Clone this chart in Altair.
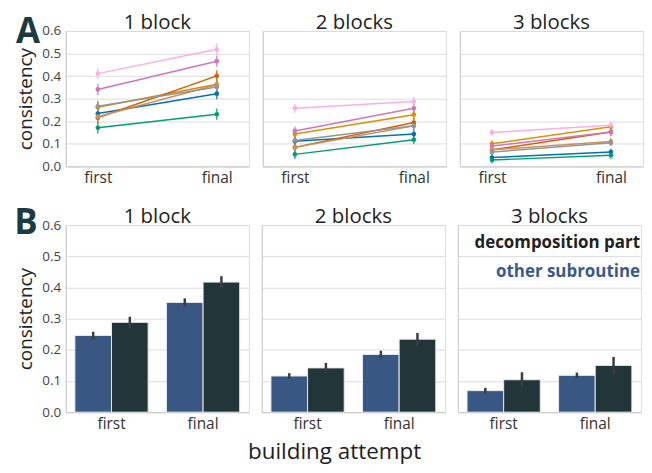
import altair as alt
import pandas as pd

FONT = "Open Sans"

blocks = ["1 block", "2 blocks", "3 blocks"]
attempts = ["first", "final"]

# Panel A: per-series consistency (first, final) per block
series = ["s1", "s2", "s3", "s4", "s5", "s6", "s7", "s8"]
series_colors = ["#0173b2", "#de8f05", "#029e73", "#d55e00", "#cc78bc", "#ca9161", "#fbafe4", "#949494"]
first_1 = [0.234, 0.262, 0.171, 0.215, 0.341, 0.220, 0.411, 0.266]
final_1 = [0.322, 0.364, 0.231, 0.401, 0.466, 0.362, 0.519, 0.352]
first_2 = [0.111, 0.143, 0.053, 0.084, 0.157, 0.084, 0.257, 0.115]
final_2 = [0.143, 0.229, 0.118, 0.194, 0.257, 0.180, 0.287, 0.180]
first_3 = [0.039, 0.100, 0.028, 0.073, 0.090, 0.073, 0.150, 0.063]
final_3 = [0.063, 0.175, 0.049, 0.152, 0.152, 0.110, 0.182, 0.105]
err_A = [0.025, 0.02, 0.016]

# Panel B: bars
parts = ["other subroutine", "decomposition part"]
part_colors = ["#385783", "#223539"]
other_first = [0.246, 0.116, 0.069]
other_final = [0.352, 0.185, 0.118]
decomp_first = [0.288, 0.142, 0.104]
decomp_final = [0.417, 0.234, 0.150]
other_err_first = [0.012, 0.009, 0.009]
other_err_final = [0.013, 0.012, 0.009]
decomp_err_first = [0.018, 0.016, 0.024]
decomp_err_final = [0.019, 0.020, 0.027]

yticks = [0.0, 0.1, 0.2, 0.3, 0.4, 0.5, 0.6]

firsts = [first_1, first_2, first_3]
finals = [final_1, final_2, final_3]

rowsA = []
for bi, b in enumerate(blocks):
    for si, s in enumerate(series):
        for a, vals in zip(attempts, [firsts[bi], finals[bi]]):
            v = vals[si]
            rowsA.append(dict(block=b, series=s, attempt=a, value=v,
                              lo=v - err_A[bi], hi=v + err_A[bi]))
dfA = pd.DataFrame(rowsA)

rowsB = []
for bi, b in enumerate(blocks):
    rowsB.append(dict(block=b, part=parts[0], attempt="first", value=other_first[bi], err=other_err_first[bi]))
    rowsB.append(dict(block=b, part=parts[1], attempt="first", value=decomp_first[bi], err=decomp_err_first[bi]))
    rowsB.append(dict(block=b, part=parts[0], attempt="final", value=other_final[bi], err=other_err_final[bi]))
    rowsB.append(dict(block=b, part=parts[1], attempt="final", value=decomp_final[bi], err=decomp_err_final[bi]))
dfB = pd.DataFrame(rowsB)
dfB["lo"] = dfB["value"] - dfB["err"]
dfB["hi"] = dfB["value"] + dfB["err"]

W = 184
HA = 136
HB = 188

color_scale = alt.Scale(domain=series, range=series_colors)
yscale = alt.Scale(domain=[0, 0.6], nice=False)


def y_axis(show):
    if show:
        return alt.Axis(values=yticks, format=".1f", title="consistency", labelOverlap=False, tickCount=10,
                        ticks=False, labelPadding=5, titlePadding=6, labelFontSize=13.5,
                        labelColor="#444444", titleFontSize=19, titleFontWeight="normal",
                        titleColor="#222222", grid=True, gridColor="#dcdcdc",
                        domainColor="#cccccc", labelFont=FONT, titleFont=FONT)
    return alt.Axis(values=yticks, labels=False, ticks=False, title=None, tickCount=10,
                    grid=True, gridColor="#dcdcdc", domainColor="#cccccc")


x_axis = alt.Axis(title=None, ticks=False, labelAngle=0, labelFontSize=15.5, labelColor="#333333",
                  labelPadding=4, domainColor="#cccccc", labelFont=FONT)


def title_mark(b):
    return alt.Chart(pd.DataFrame({"t": [b]})).mark_text(
        font=FONT, fontSize=20.5, color="#222222", align="center", baseline="middle"
    ).encode(text="t:N", x=alt.value(W / 2), y=alt.value(-8))


def letter_mark(t, dx, dy):
    return alt.Chart(pd.DataFrame({"t": [t]})).mark_text(
        font=FONT, fontSize=35, fontWeight="bold", color="#1c3a40", align="center", baseline="middle"
    ).encode(text="t:N", x=alt.value(dx), y=alt.value(dy))


def panelA(bi):
    b = blocks[bi]
    d = dfA[dfA.block == b]
    base = alt.Chart(d).encode(
        x=alt.X("attempt:N", sort=attempts, scale=alt.Scale(type="point", padding=0.27), axis=x_axis),
        color=alt.Color("series:N", scale=color_scale, legend=None),
    )
    lines = base.mark_line(strokeWidth=1.5).encode(
        y=alt.Y("value:Q", scale=yscale, axis=y_axis(bi == 0)), detail="series:N")
    err = base.mark_rule(strokeWidth=1.5, opacity=0.8).encode(y="lo:Q", y2="hi:Q")
    pts = base.mark_point(filled=True, size=22, opacity=1, shape="circle").encode(y="value:Q")
    layers = [lines, err, pts, title_mark(b)]
    if bi == 0:
        layers.append(letter_mark("A", -38, 1))
    return alt.layer(*layers).properties(width=W, height=HA)


def panelB(bi):
    b = blocks[bi]
    d = dfB[dfB.block == b]
    base = alt.Chart(d).encode(
        x=alt.X("attempt:N", sort=attempts, scale=alt.Scale(paddingInner=0.2, paddingOuter=0.1), axis=x_axis),
        xOffset=alt.XOffset("part:N", sort=parts, scale=alt.Scale(paddingInner=0.0)),
    )
    bars = base.mark_bar(stroke="#e6e9ee", strokeWidth=1).encode(
        y=alt.Y("value:Q", scale=yscale, axis=y_axis(bi == 0)),
        color=alt.Color("part:N", scale=alt.Scale(domain=parts, range=part_colors), legend=None),
    )
    err = base.mark_rule(strokeWidth=2.5, color="#3d3d3d").encode(y="lo:Q", y2="hi:Q")
    layers = [bars, err, title_mark(b)]
    if bi == 0:
        layers.append(letter_mark("B", -40, -2))
    if bi == 2:
        leg = alt.Chart(pd.DataFrame({"t": ["decomposition part", "other subroutine"],
                                      "c": ["#222222", "#3a5a8c"],
                                      "yy": [18, 47]})).mark_text(
            font=FONT, fontSize=17, fontWeight="bold", align="right", baseline="middle"
        ).encode(text="t:N", x=alt.value(W - 1), y=alt.Y("yy:Q", scale=None),
                 color=alt.Color("c:N", scale=None))
        layers.append(leg)
    return alt.layer(*layers).properties(width=W, height=HB)


rowA = alt.hconcat(*[panelA(i) for i in range(3)], spacing=12)
rowB = alt.hconcat(*[panelB(i) for i in range(3)], spacing=11)

chart = alt.vconcat(rowA, rowB, spacing=19).properties(
    title=alt.TitleParams("building attempt", orient="bottom", anchor="middle", dx=6, offset=9,
                          font=FONT, fontSize=22.5, fontWeight="normal", color="#222222")
).resolve_scale(color="independent").configure_view(
    strokeWidth=0).configure(padding={"left": 5, "top": 3, "right": 0, "bottom": 0}, background="white")

chart.save("out.html", embed_options={"renderer": "svg", "actions": False})
